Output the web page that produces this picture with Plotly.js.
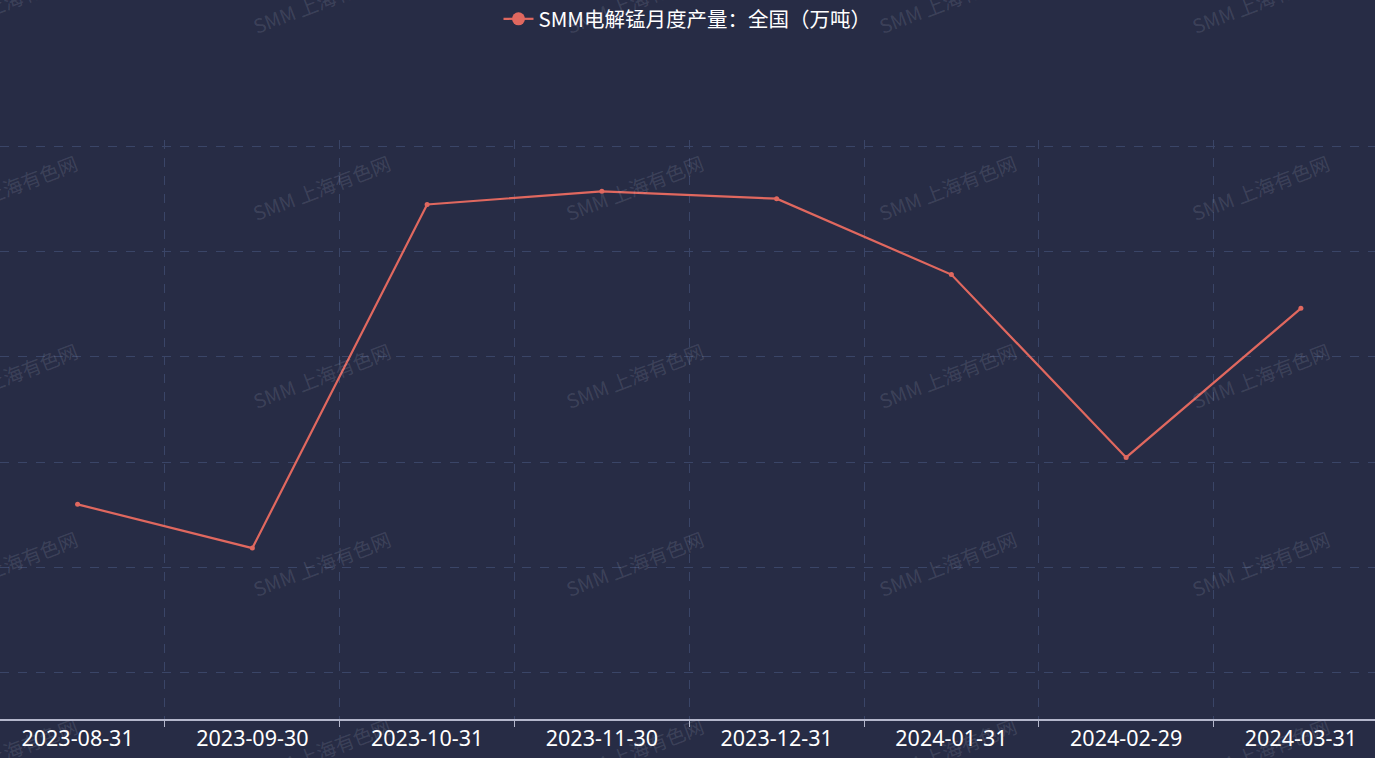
<!DOCTYPE html>
<html>
<head>
<meta charset="utf-8">
<script src="https://cdn.plot.ly/plotly-3.0.1.min.js"></script>
<style>
html,body{margin:0;padding:0;background:#272c45;}
#chart{width:1375px;height:758px;}
</style>
</head>
<body>
<div id="chart"></div>
<script>
const categories = ["2023-08-31","2023-09-30","2023-10-31","2023-11-30","2023-12-31","2024-01-31","2024-02-29","2024-03-31"];
const production = [7.20, 6.37, 12.89, 13.14, 13.00, 11.56, 8.09, 10.92];
const seriesName = "SMM电解锰月度产量：全国（万吨）";
const watermarkText = "SMM 上海有色网";

const W = 1375, H = 758, T = 140, B = 39;
const plotH = H - T - B;
const wmCols = [8, 321, 634, 947, 1260];
const wmRows = [0, 188, 375, 563, 750];
const annotations = [];
wmRows.forEach(py => wmCols.forEach(px => {
  annotations.push({
    text: watermarkText, xref: 'paper', yref: 'paper',
    x: px / W, y: (H - B - py) / plotH,
    xanchor: 'center', yanchor: 'middle', showarrow: false,
    textangle: -21,
    font: {family: '"Noto Sans CJK SC", "Noto Sans", sans-serif', size: 19.5, color: 'rgba(200,205,225,0.14)'}
  });
}));

const lineColor = '#e0685f';
const trace = {
  x: categories, y: production, name: seriesName,
  type: 'scatter', mode: 'lines+markers',
  line: {color: lineColor, width: 2.2},
  marker: {color: lineColor, size: 5},
  cliponaxis: false, showlegend: false
};
// legend-only entry with a larger symbol, like the reference legend
const legendEntry = {
  x: [null], y: [null], name: seriesName,
  type: 'scatter', mode: 'lines+markers',
  line: {color: lineColor, width: 2.2},
  marker: {color: lineColor, size: 13},
  showlegend: true
};

const layout = {
  width: W, height: H,
  paper_bgcolor: '#272c45', plot_bgcolor: '#272c45',
  margin: {l: 0, r: 0, t: T, b: B},
  showlegend: true,
  legend: {
    orientation: 'h', x: 0.5, xanchor: 'center',
    yref: 'container', y: 1 - 19 / H, yanchor: 'middle',
    font: {family: '"Noto Sans CJK SC", "Noto Sans", sans-serif', size: 20.5, color: '#ffffff'},
    bgcolor: 'rgba(0,0,0,0)', itemwidth: 30
  },
  xaxis: {
    type: 'category', range: [-0.444, 7.424],
    tickson: 'boundaries', ticks: 'outside', ticklen: 6, tickcolor: '#b4b7cc',
    showline: true, linecolor: '#b4b7cc', linewidth: 1.5,
    showgrid: true, gridcolor: '#3a4567', griddash: 'dash', gridwidth: 1,
    tickfont: {family: '"Noto Sans", "Noto Sans CJK SC", sans-serif', size: 21.5, color: '#ffffff'},
    fixedrange: true
  },
  yaxis: {
    range: [3.127, 14.114], tick0: 4, dtick: 2,
    showticklabels: false, ticks: '', zeroline: false, showline: false,
    showgrid: true, gridcolor: '#3a4567', griddash: 'dash', gridwidth: 1,
    fixedrange: true
  },
  annotations: annotations
};

Plotly.newPlot('chart', [trace, legendEntry], layout, {displayModeBar: false, staticPlot: true});
</script>
</body>
</html>
